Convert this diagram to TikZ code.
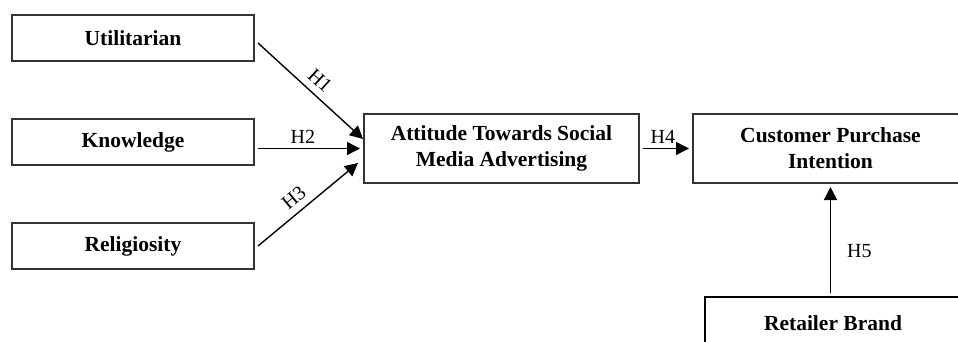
\documentclass[tikz,border=0pt]{standalone}
\usepackage{fontspec}
\setmainfont{Liberation Serif}
\usetikzlibrary{positioning,arrows.meta}
\begin{document}
\begin{tikzpicture}
                    [x=0.5pt, y=-0.5pt,
                    var/.style={rectangle,
                        draw=black!80, line width=0.8pt,
                        minimum width=121pt, minimum height=23pt,
                        outer sep=2pt, align=center,
                        font=\fontsize{10.75}{13}\selectfont\bfseries},
                    big/.style={var,
                        minimum width=137.5pt, minimum height=34.5pt},
                    rb/.style={var,
                        draw=black, line width=1.4pt,
                        minimum width=128pt, minimum height=26pt},
                    hyp/.style={font=\fontsize{10}{12}\selectfont,
                        inner sep=2pt},
                    slp/.style={hyp, sloped, above, inner sep=3.5pt},
                    >={Triangle[length=6.5pt,width=6.5pt]},
                    line width=0.7pt]

                    \clip (0,0) rectangle (958,342);

                    \node[var] (util) at (133,38)
                        {Utilitarian};
                    \node[var, below=25pt of util]
                        (know) {Knowledge};
                    \node[var, below=25pt of know]
                        (rel) {Religiosity};
                    \node[big] (att) at (501.5,148.5)
                        {Attitude Towards Social\\Media Advertising};
                    \node[big, right=23pt of att]
                        (cpi) {Customer Purchase\\Intention};
                    \node[rb] (rbr) at (833,323)
                        {Retailer Brand};

                    \draw[->] ([yshift=-2.5pt]util.east)
                        -- node[slp, pos=.5] {H1}
                        ([shift={(3,-9.5)}]att.west);
                    \draw[->] (know.east |- att.west)
                        -- node[hyp, above, pos=.44] {H2} (att.west);
                    \draw[->] (rel.east)
                        -- node[slp, pos=.45] {H3}
                        ([shift={(-2,14.5)}]att.west);
                    \draw[->] (att.east)
                        -- node[hyp, above, pos=.43] {H4} (cpi.west);
                    \draw[->] (cpi.south |- rbr.north)
                        -- node[hyp, right=6pt, pos=.4] {H5} (cpi.south);
                \end{tikzpicture}
\end{document}
